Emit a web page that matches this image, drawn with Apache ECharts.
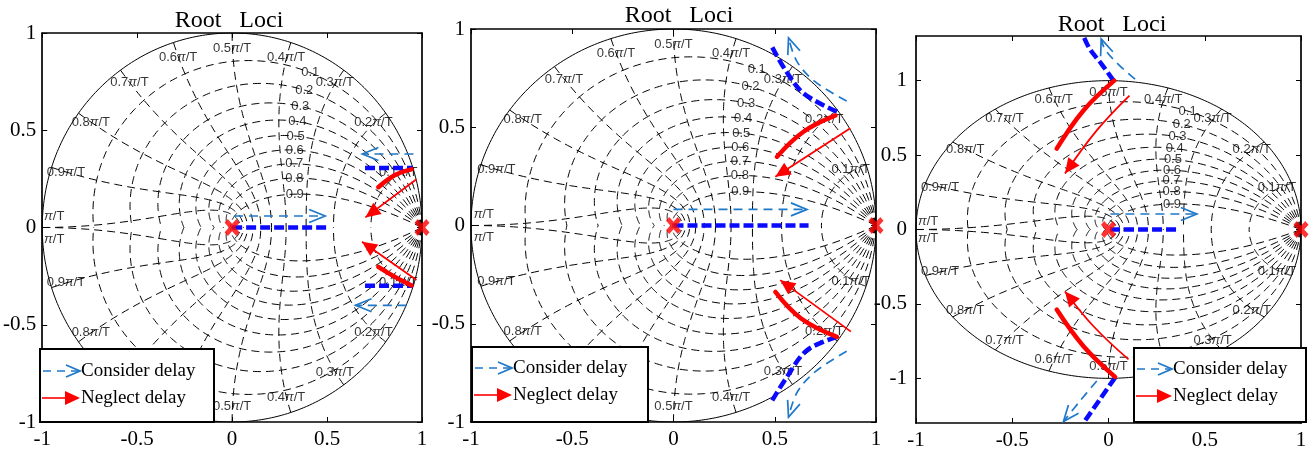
<!DOCTYPE html>
<html><head><meta charset="utf-8">
<script src="https://cdn.jsdelivr.net/npm/echarts@6/dist/echarts.min.js"></script>
<style>html,body{margin:0;padding:0;background:#fff}#c{width:1315px;height:455px}</style>
</head><body><div id="c"></div>
<script>
// ---------------- data ----------------
const tickValues = [-1, -0.5, 0, 0.5, 1];
const zetaValues = [0.1, 0.2, 0.3, 0.4, 0.5, 0.6, 0.7, 0.8, 0.9];
const wnValues = [0.1, 0.2, 0.3, 0.4, 0.5, 0.6, 0.7, 0.8, 0.9, 1.0]; // x pi/T
const wnLabelNames = ['0.1', '0.2', '0.3', '0.4', '0.5', '0.6', '0.7', '0.8', '0.9', ''];
const titleText = 'Root   Loci';
const legendNames = ['Consider delay', 'Neglect delay'];
const poles = [[0, 0], [1, 0]];

// Panel 1
const p1ConsiderLoci = [
  [[0, 0], [0.51, 0]],
  [[0.70, 0.306], [0.95, 0.306]],
  [[0.70, -0.30], [0.95, -0.30]]
];
const p1ConsiderArrows = [
  [[0.01, 0.059], [0.49, 0.059]],
  [[0.955, 0.378], [0.686, 0.378]],
  [[0.92, -0.40], [0.65, -0.40]]
];
const p1NeglectLoci = [
  [[0.945, 0.299], [0.858, 0.270], [0.770, 0.207]],
  [[0.945, -0.298], [0.858, -0.254], [0.770, -0.202]]
];
const p1NeglectArrows = [
  [[0.971, 0.248], [0.702, 0.052]],
  [[0.971, -0.270], [0.684, -0.073]]
];

// Panel 2
const p2ConsiderLoci = [
  [[0, 0], [0.667, 0]],
  [[0.807, 0.579], [0.642, 0.673], [0.552, 0.792], [0.486, 0.91]],
  [[0.807, -0.567], [0.659, -0.635], [0.56, -0.771], [0.478, -0.906]]
];
const p2ConsiderArrows = [
  [[0, 0.082], [0.659, 0.082]],
  [[0.855, 0.634], [0.699, 0.732], [0.61, 0.834], [0.568, 0.955]],
  [[0.855, -0.64], [0.699, -0.745], [0.61, -0.85], [0.568, -0.975]]
];
const p2NeglectLoci = [
  [[0.80, 0.56], [0.642, 0.477], [0.511, 0.35]],
  [[0.807, -0.567], [0.63, -0.473], [0.503, -0.338]]
];
const p2NeglectArrows = [
  [[0.873, 0.495], [0.503, 0.248]],
  [[0.876, -0.54], [0.527, -0.278]]
];

// Panel 3
const p3ConsiderLoci = [
  [[0.008, 0], [0.364, 0]],
  [[0.026, 1.0], [-0.035, 1.11], [-0.096, 1.21], [-0.13, 1.3]],
  [[0.034, -0.995], [-0.044, -1.14], [-0.13, -1.3]]
];
const p3ConsiderArrows = [
  [[0.01, 0.104], [0.459, 0.104]],
  [[0.138, 1.01], [0.051, 1.11], [-0.018, 1.21], [-0.038, 1.28]],
  [[-0.061, -1.018], [-0.148, -1.152], [-0.234, -1.29]]
];
const p3NeglectLoci = [
  [[0.03, 1.0], [-0.13, 0.80], [-0.269, 0.543]],
  [[0.034, -0.99], [-0.13, -0.784], [-0.269, -0.538]]
];
const p3NeglectArrows = [
  [[0.109, 0.90], [-0.061, 0.666], [-0.226, 0.376]],
  [[0.104, -0.873], [-0.078, -0.65], [-0.226, -0.416]]
];

// ---------------- layout ----------------
const panels = [
  { grid: { left: 40, top: 33, width: 382, height: 389 }, yMin: -1, yMax: 1,
    cLoci: p1ConsiderLoci, cArr: p1ConsiderArrows, nLoci: p1NeglectLoci, nArr: p1NeglectArrows,
    title: [229, 21], legend: { x: 40, y: 349, w: 174, h: 73, tip: 80, r1: 371, r2: 398 } },
  { grid: { left: 471, top: 29, width: 405, height: 393 }, yMin: -1, yMax: 1,
    cLoci: p2ConsiderLoci, cArr: p2ConsiderArrows, nLoci: p2NeglectLoci, nArr: p2NeglectArrows,
    title: [679, 16], legend: { x: 472, y: 347, w: 176, h: 75, tip: 512, r1: 368, r2: 395 } },
  { grid: { left: 916, top: 36, width: 385, height: 387 }, yMin: -1.3, yMax: 1.3,
    cLoci: p3ConsiderLoci, cArr: p3ConsiderArrows, nLoci: p3NeglectLoci, nArr: p3NeglectArrows,
    title: [1112, 25], legend: { x: 1134, y: 348, w: 172, h: 74, tip: 1172, r1: 369, r2: 396 } }
];

const BLUE = '#0a0aff', LBLUE = '#1f78c8', RED = '#ff0000';
const SERIF = '"Liberation Serif", "Times New Roman", serif';
const NARROW = '"Liberation Sans Narrow", "Liberation Sans", Arial, sans-serif';

// z-plane grid (zgrid) construction
function zetaCurve(z, sign) {
  const pts = [];
  const n = 160;
  for (let i = 0; i <= n; i++) {
    const th = Math.PI * i / n;
    const r = Math.exp(-z * th / Math.sqrt(1 - z * z));
    pts.push([r * Math.cos(th), sign * r * Math.sin(th)]);
  }
  return pts;
}
function wnCurve(w, sign) {
  const pts = [];
  const n = 80;
  for (let i = 0; i <= n; i++) {
    const z = i / n;
    const r = Math.exp(-z * w);
    const th = w * Math.sqrt(1 - z * z);
    pts.push([r * Math.cos(th), sign * r * Math.sin(th)]);
  }
  return pts;
}
const gridCurves = [];
zetaValues.forEach(z => { gridCurves.push(zetaCurve(z, 1)); gridCurves.push(zetaCurve(z, -1)); });
wnValues.forEach(w => { gridCurves.push(wnCurve(w * Math.PI, 1)); gridCurves.push(wnCurve(w * Math.PI, -1)); });
const unitCircle = [];
for (let i = 0; i <= 360; i++) { const a = i * Math.PI / 180; unitCircle.push([Math.cos(a), Math.sin(a)]); }

const zetaLabelData = zetaValues.map(z => {
  const w = 0.35 * Math.PI, r = Math.exp(-z * w), th = w * Math.sqrt(1 - z * z);
  return { value: [r * Math.cos(th), r * Math.sin(th)], name: String(z) };
});
const wnLabelData = [];
wnValues.forEach((w, k) => {
  if (w < 1) {
    const th = w * Math.PI, r = 0.92;
    wnLabelData.push({ value: [r * Math.cos(th), r * Math.sin(th)], name: '{n|' + wnLabelNames[k] + '}{i|π}{n|/T}' });
    wnLabelData.push({ value: [r * Math.cos(th), -r * Math.sin(th)], name: '{n|' + wnLabelNames[k] + '}{i|π}{n|/T}' });
  } else {
    wnLabelData.push({ value: [-0.937, 0.055], name: '{i|π}{n|/T}' });
    wnLabelData.push({ value: [-0.937, -0.06], name: '{i|π}{n|/T}' });
  }
});

const XPATH = 'path://M0,3 L3,0 L7,4 L11,0 L14,3 L10,7 L14,11 L11,14 L7,10 L3,14 L0,11 L4,7 Z';

function arrowRender(kind) {
  return function (params, api) {
    const t = api.coord([api.value(0), api.value(1)]);
    const p = api.coord([api.value(2), api.value(3)]);
    let dx = t[0] - p[0], dy = t[1] - p[1];
    const len = Math.hypot(dx, dy) || 1; dx /= len; dy /= len;
    const nx = -dy, ny = dx;
    if (kind === 'filled') {
      const L = 15, W = 7;
      return { type: 'polygon', shape: { points: [t, [t[0] - L * dx + W * nx, t[1] - L * dy + W * ny], [t[0] - L * dx - W * nx, t[1] - L * dy - W * ny]] },
        style: { fill: RED } };
    }
    const L = 16, W = 6.5;
    return { type: 'polyline', shape: { points: [[t[0] - L * dx + W * nx, t[1] - L * dy + W * ny], t, [t[0] - L * dx - W * nx, t[1] - L * dy - W * ny]] },
      style: { stroke: LBLUE, lineWidth: 1.7, fill: null } };
  };
}
function arrowData(curves) {
  return curves.map(c => { const a = c[c.length - 1], b = c[c.length - 2]; return [a[0], a[1], b[0], b[1]]; });
}

const grids = [], xAxes = [], yAxes = [], series = [], graphics = [];

panels.forEach((P, i) => {
  grids.push(Object.assign({ containLabel: false }, P.grid));
  const axLine = { show: true, onZero: false, lineStyle: { color: '#000', width: 1.7 } };
  const tick = { show: true, inside: true, length: 5, lineStyle: { color: '#000', width: 1 } };
  const lab = { show: true, color: '#000', fontFamily: SERIF, fontSize: 21, margin: 6 };
  xAxes.push({ type: 'value', gridIndex: i, position: 'bottom', min: -1, max: 1, interval: 0.5,
    axisLine: axLine, axisTick: tick, axisLabel: Object.assign({}, lab, { margin: 7 }), splitLine: { show: false } });
  xAxes.push({ type: 'value', gridIndex: i, position: 'top', min: -1, max: 1, interval: 0.5,
    axisLine: axLine, axisTick: tick, axisLabel: { show: false }, splitLine: { show: false } });
  const yBase = { type: 'value', gridIndex: i, min: P.yMin, max: P.yMax, splitLine: { show: false }, axisLine: axLine };
  if (P.yMin === -1) {
    yAxes.push(Object.assign({}, yBase, { position: 'left', interval: 0.5, axisTick: tick, axisLabel: lab }));
    yAxes.push(Object.assign({}, yBase, { position: 'right', interval: 0.5, axisTick: tick, axisLabel: { show: false } }));
  } else {
    yAxes.push(Object.assign({}, yBase, { position: 'left',
      axisTick: Object.assign({}, tick, { customValues: tickValues }),
      axisLabel: Object.assign({}, lab, { customValues: tickValues, margin: 9 }) }));
    yAxes.push(Object.assign({}, yBase, { position: 'right',
      axisTick: Object.assign({}, tick, { customValues: tickValues }), axisLabel: { show: false } }));
  }
  const xi = 2 * i, yi = 2 * i;

  // zgrid
  series.push({ type: 'lines', coordinateSystem: 'cartesian2d', xAxisIndex: xi, yAxisIndex: yi, polyline: true, silent: true,
    lineStyle: { color: '#000', width: 1, type: [8, 5], opacity: 1 }, data: gridCurves.map(c => ({ coords: c })), z: 1 });
  series.push({ type: 'lines', coordinateSystem: 'cartesian2d', xAxisIndex: xi, yAxisIndex: yi, polyline: true, silent: true,
    lineStyle: { color: '#000', width: 1, type: 'solid', opacity: 1 }, data: [{ coords: unitCircle }], z: 1 });
  // grid labels
  series.push({ type: 'scatter', xAxisIndex: xi, yAxisIndex: yi, symbolSize: 1, itemStyle: { color: 'transparent' }, silent: true, z: 2,
    data: zetaLabelData, label: { show: true, position: 'inside', formatter: p => p.name, fontFamily: NARROW, fontSize: 13, color: '#000' } });
  series.push({ type: 'scatter', xAxisIndex: xi, yAxisIndex: yi, symbolSize: 1, itemStyle: { color: 'transparent' }, silent: true, z: 2,
    data: wnLabelData, label: { show: true, position: 'inside', formatter: p => p.name, color: '#000',
      rich: { n: { fontFamily: NARROW, fontSize: 13, color: '#000' }, i: { fontFamily: NARROW, fontSize: 13, fontStyle: 'italic', color: '#000' } } } });

  // loci
  P.cLoci.forEach(c => series.push({ type: 'line', name: legendNames[0], xAxisIndex: xi, yAxisIndex: yi, data: c, showSymbol: false, symbol: 'none',
    smooth: c.length > 2 ? 0.35 : false, clip: false, z: 5, lineStyle: { color: BLUE, width: 4.5, type: [10, 4] } }));
  P.cArr.forEach(c => series.push({ type: 'line', name: legendNames[0], xAxisIndex: xi, yAxisIndex: yi, data: c, showSymbol: false, symbol: 'none',
    smooth: c.length > 2 ? 0.35 : false, clip: false, z: 6, lineStyle: { color: LBLUE, width: 1.7, type: [9, 6] } }));
  P.nLoci.forEach(c => series.push({ type: 'line', name: legendNames[1], xAxisIndex: xi, yAxisIndex: yi, data: c, showSymbol: false, symbol: 'none',
    smooth: c.length > 2 ? 0.4 : false, clip: false, z: 6, lineStyle: { color: RED, width: 4.5, type: 'solid', cap: 'round' } }));
  P.nArr.forEach(c => series.push({ type: 'line', name: legendNames[1], xAxisIndex: xi, yAxisIndex: yi, data: c, showSymbol: false, symbol: 'none',
    smooth: c.length > 2 ? 0.4 : false, clip: false, z: 6, lineStyle: { color: RED, width: 1.8, type: 'solid' } }));
  series.push({ type: 'custom', xAxisIndex: xi, yAxisIndex: yi, clip: false, silent: true, z: 7,
    renderItem: arrowRender('open'), data: arrowData(P.cArr), encode: { x: 0, y: 1 } });
  series.push({ type: 'custom', xAxisIndex: xi, yAxisIndex: yi, clip: false, silent: true, z: 7,
    renderItem: arrowRender('filled'), data: arrowData(P.nArr), encode: { x: 0, y: 1 } });
  // poles
  series.push({ type: 'scatter', xAxisIndex: xi, yAxisIndex: yi, symbol: XPATH, symbolSize: [15, 17], clip: false, z: 8,
    itemStyle: { color: RED }, data: poles });

  // title
  graphics.push({ type: 'text', x: P.title[0], y: P.title[1], z: 50,
    style: { text: titleText, font: '24px ' + SERIF, fill: '#000', align: 'center', textAlign: 'center', verticalAlign: 'middle', textVerticalAlign: 'middle' } });
  // legend
  const L = P.legend;
  graphics.push({ type: 'rect', z: 100, shape: { x: L.x, y: L.y, width: L.w, height: L.h }, style: { fill: '#fff', stroke: '#000', lineWidth: 2 } });
  graphics.push({ type: 'line', z: 101, shape: { x1: L.x + 3, y1: L.r1, x2: L.tip - 1, y2: L.r1 }, style: { stroke: LBLUE, lineWidth: 1.7, lineDash: [8, 6] } });
  graphics.push({ type: 'polyline', z: 101, shape: { points: [[L.tip - 14, L.r1 - 6], [L.tip, L.r1], [L.tip - 14, L.r1 + 6]] }, style: { stroke: LBLUE, lineWidth: 1.8, fill: null } });
  graphics.push({ type: 'line', z: 101, shape: { x1: L.x + 2, y1: L.r2, x2: L.tip - 12, y2: L.r2 }, style: { stroke: RED, lineWidth: 1.6 } });
  graphics.push({ type: 'polygon', z: 101, shape: { points: [[L.tip, L.r2], [L.tip - 15, L.r2 - 7], [L.tip - 15, L.r2 + 7]] }, style: { fill: RED } });
  [L.r1, L.r2].forEach((yy, k) => graphics.push({ type: 'text', z: 102, x: L.tip + 1, y: yy,
    style: { text: legendNames[k], font: '19px ' + SERIF, fill: '#000', verticalAlign: 'middle', textVerticalAlign: 'middle' } }));
});

const chart = echarts.init(document.getElementById('c'), null, { renderer: 'canvas' });
chart.setOption({
  animation: false,
  backgroundColor: '#fff',
  grid: grids, xAxis: xAxes, yAxis: yAxes, series: series, graphic: graphics
});
</script></body></html>
